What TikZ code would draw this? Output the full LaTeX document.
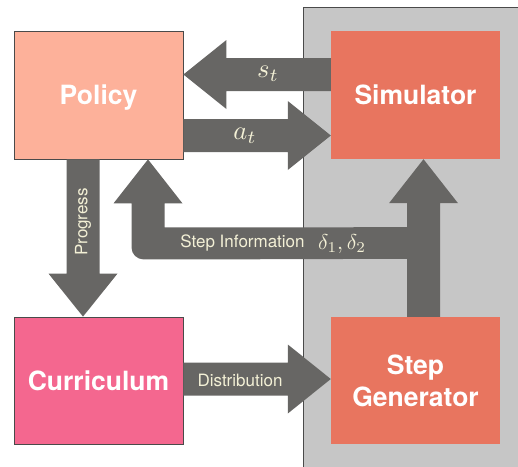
\documentclass[tikz,border=0pt]{standalone}
\usepackage{fontspec}
\setsansfont{TeX Gyre Heros}
\usetikzlibrary{calc}
\definecolor{policyc}{HTML}{FDB19A}
\definecolor{simc}{HTML}{E8755F}
\definecolor{currc}{HTML}{F4678F}
\definecolor{arrowc}{HTML}{676664}
\definecolor{bgc}{HTML}{C6C6C6}
\definecolor{txtc}{HTML}{F3F0D6}
\definecolor{bordc}{HTML}{4A4A4A}
\newcommand\fatarrow[2]{%
  \fill[arrowc] ($(#1)!16.5pt!90:(#2)$) -- ($(#2)!43pt!(#1)!16.5pt!90:(#2)$) -- ($(#2)!43pt!(#1)!34.5pt!90:(#2)$) -- (#2) -- ($(#2)!43pt!(#1)!34.5pt!-90:(#2)$) -- ($(#2)!43pt!(#1)!16.5pt!-90:(#2)$) -- ($(#1)!16.5pt!-90:(#2)$) -- cycle;}
\tikzset{
  block/.style={inner sep=0pt, minimum width=169pt, minimum height=128pt, align=center,
    text=white, font=\sffamily\bfseries\fontsize{26.5}{32}\selectfont},
  oneline/.style={text height=19pt, text depth=0pt},
  bordered/.style={draw=bordc, line width=0.8pt},
  lbl/.style={text=txtc, font=\sffamily\fontsize{17}{20}\selectfont, inner sep=0pt},
  mlbl/.style={text=txtc, inner sep=0pt}
}
\begin{document}
\begin{tikzpicture}[x=1pt,y=-1pt]
\useasboundingbox (0,0) rectangle (518,466);
% background panel
\fill[bgc] (303,7) rectangle (522,470);
\draw[bordc, line width=0.9pt] (303,470) -- (303,7) -- (522,7);
% blocks
\node[block, oneline, bordered, fill=policyc] (policy) at (98.5,95) {Policy};
\node[block, oneline, fill=simc] (sim) at (415.5,95) {Simulator};
\node[block, oneline, bordered, fill=currc, minimum height=127pt] (curr) at (98.5,380.5) {Curriculum};
\node[block, fill=simc, minimum height=127pt] (gen) at (415.5,380.5) {Step\\Generator};
% arrow end points
\coordinate (sA) at ($(sim.west)+(0,-20.5)$);
\coordinate (sB) at ($(policy.east)+(0,-20.5)$);
\coordinate (aA) at ($(policy.east)+(0,40.5)$);
\coordinate (aB) at ($(sim.west)+(0,40.5)$);
\coordinate (pA) at ($(policy.south)+(-15.5,0)$);
\coordinate (pB) at ($(curr.north)+(-15.5,0)$);
\coordinate (dA) at ($(curr.east)+(0,-1.5)$);
\coordinate (dB) at ($(gen.west)+(0,-1.5)$);
\fatarrow{sA}{sB}
\fatarrow{aA}{aB}
\fatarrow{pA}{pB}
\fatarrow{dA}{dB}
% step information branch
\coordinate (gT) at ($(gen.north)+(8,0)$);
\coordinate (sBt) at ($(sim.south)+(8,0)$);
\coordinate (pBt) at ($(policy.south)+(49.5,0)$);
\fill[arrowc] ($(gT)+(16.5,0)$) -- ($(sBt)+(16.5,44)$) -- ($(sBt)+(34.5,44)$) -- (sBt)
  -- ($(sBt)+(-34.5,44)$) -- ($(sBt)+(-16.5,44)$) -- ($(sBt)+(-16.5,68)$)
  -- ($(pBt)+(16.5,68)$) -- ($(pBt)+(16.5,44)$) -- ($(pBt)+(34.5,44)$) -- (pBt)
  -- ($(pBt)+(-34.5,44)$) -- ($(pBt)+(-16.5,44)$) -- ($(pBt)+(-16.5,70)$)
  [rounded corners=12pt] -- ($(pBt)+(-16.5,100)$) -- ($(pBt)+(60,100)$)
  [sharp corners] -- ($(gT)+(-16.5,-58)$) -- ($(gT)+(-16.5,0)$) -- cycle;
% labels
\node[mlbl, scale=2.65] (stl) at (268,74) {$s_t$};
\node[mlbl, scale=2.65] (atl) at (245,136) {$a_t$};
\node[lbl, rotate=90] (prl) at (83,222) {Progress};
\node[lbl] (sil) at (242.5,243) {Step Information};
\node[mlbl, scale=2.15] (dll) at (342,244) {$\delta_1,\delta_2$};
\node[lbl] (dsl) at (240,380) {Distribution};
\end{tikzpicture}
\end{document}
